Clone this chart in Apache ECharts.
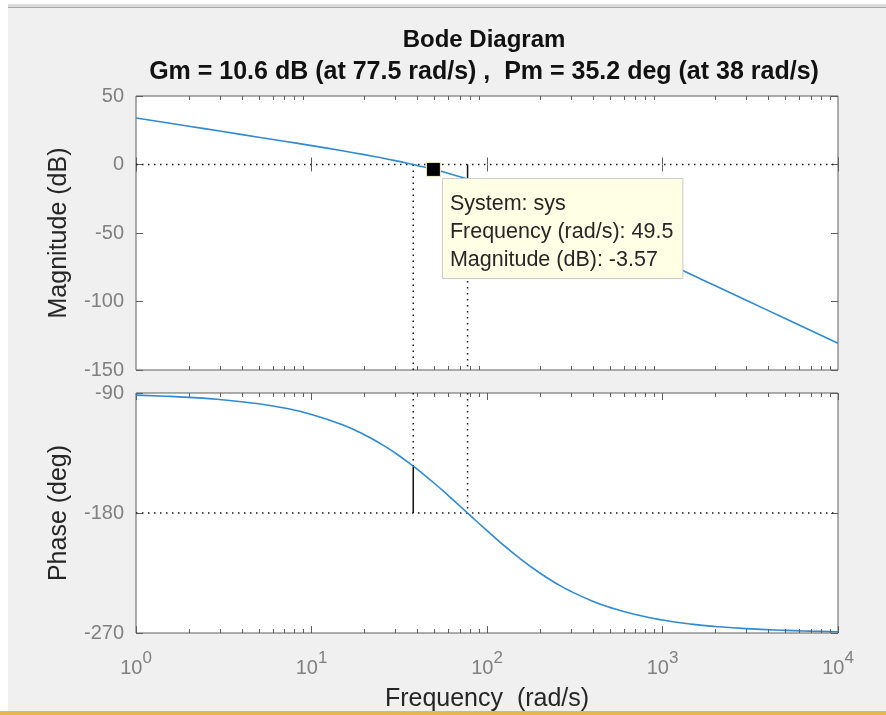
<!DOCTYPE html>
<html>
<head>
<meta charset="utf-8">
<script src="https://cdn.jsdelivr.net/npm/echarts@6/dist/echarts.min.js"></script>
<style>
  html, body { margin: 0; padding: 0; background: #ffffff; }
  #chart { width: 886px; height: 715px; }
</style>
</head>
<body>
<div id="chart"></div>
<script>
// ---- data ----
const freq = [1, 1.5, 2, 3, 5, 7, 10, 15, 20, 25, 30, 38, 40, 49.5, 60, 77.5, 100, 120, 150, 200, 250, 300, 400, 500, 700, 1000, 1500, 2000, 3000, 5000, 7000, 10000];
const magDb = [33.98, 30.46, 27.95, 24.42, 19.95, 16.98, 13.78, 10.02, 7.19, 4.87, 2.84, -0.01, -0.67, -3.57, -6.43, -10.64, -15.30, -18.91, -23.63, -30.12, -35.41, -39.85, -47.02, -52.68, -61.31, -70.53, -81.06, -88.54, -99.09, -112.40, -121.17, -130.46];
const phaseDeg = [-91.62, -92.43, -93.25, -94.87, -98.10, -101.31, -106.07, -113.82, -121.26, -128.33, -135.00, -144.81, -147.10, -157.13, -166.76, -180.03, -193.24, -202.38, -212.91, -225.00, -233.05, -238.74, -246.18, -250.79, -256.19, -260.29, -263.52, -265.13, -266.75, -268.05, -268.61, -269.03];

const freqMin = 1, freqMax = 10000;
const magMin = -150, magMax = 50, magStep = 50;
const phaseMin = -270, phaseMax = -90, phaseStep = 90;
const minorFreqs = [2,3,4,5,6,7,8,9, 20,30,40,50,60,70,80,90, 200,300,400,500,600,700,800,900, 2000,3000,4000,5000,6000,7000,8000,9000];

const gainCrossFreq = 38;      // Pm frequency
const phaseAtGainCross = -144.8;
const phaseCrossFreq = 77.5;   // Gm frequency
const magAtPhaseCross = -10.6;
const zeroDb = 0;
const minus180 = -180;

const cursorFreq = 49.5;
const cursorMag = -3.57;

const titleText = 'Bode Diagram';
const subTitleText = 'Gm = 10.6 dB (at 77.5 rad/s) ,  Pm = 35.2 deg (at 38 rad/s)';

// ---- styles ----
const FONT = '"Liberation Sans", Arial, Helvetica, sans-serif';
const AX = '#5e5e5e';
const TICKLBL = '#808080';
const DARK = '#262626';
const BLUE = '#2f8ad4';

function pairs(xs, ys) { return xs.map((x, i) => [x, ys[i]]); }

function xAxisBase(gridIndex, position, showLabel, name) {
  return {
    type: 'log', logBase: 10, gridIndex, position,
    min: freqMin, max: freqMax,
    axisLine: { show: false },
    axisTick: { show: true, inside: true, length: 7, lineStyle: { color: AX, width: 1 } },
    splitLine: { show: false },
    axisLabel: {
      show: showLabel, margin: 17, showMinLabel: true, showMaxLabel: true,
      formatter: v => '{b|10}{s|' + Math.round(Math.log10(v)) + '}',
      rich: {
        b: { fontSize: 20, color: TICKLBL, fontFamily: FONT, verticalAlign: 'bottom', lineHeight: 28 },
        s: { fontSize: 17, color: TICKLBL, fontFamily: FONT, verticalAlign: 'top', lineHeight: 28 }
      }
    },
    name: name || '',
    nameLocation: 'middle', nameGap: 54,
    nameTextStyle: { fontSize: 25, color: DARK, fontFamily: FONT }
  };
}

function yAxisBase(gridIndex, position, min, max, step, showLabel, name) {
  return {
    type: 'value', gridIndex, position, min, max, interval: step,
    axisLine: { show: false },
    axisTick: { show: true, inside: true, length: 7, lineStyle: { color: AX, width: 1 } },
    splitLine: { show: false },
    axisLabel: { show: showLabel, fontSize: 20, color: TICKLBL, fontFamily: FONT, margin: 12 },
    name: name || '',
    nameLocation: 'middle', nameGap: 64, nameRotate: 90,
    nameTextStyle: { fontSize: 25, color: DARK, fontFamily: FONT }
  };
}

function minorTickSeries(xi, yi, yVal) {
  return {
    type: 'custom', xAxisIndex: xi, yAxisIndex: yi, silent: true, z: 5,
    data: minorFreqs.map(f => [f, yVal]),
    renderItem: function (params, api) {
      const p = api.coord([api.value(0), api.value(1)]);
      const cs = params.coordSys;
      const x = Math.round(p[0]) + 0.5;
      return {
        type: 'group',
        children: [
          { type: 'line', shape: { x1: x, y1: cs.y + cs.height, x2: x, y2: cs.y + cs.height - 4 }, style: { stroke: AX, lineWidth: 1 } },
          { type: 'line', shape: { x1: x, y1: cs.y, x2: x, y2: cs.y + 4 }, style: { stroke: AX, lineWidth: 1 } }
        ]
      };
    }
  };
}

function refLine(xi, yi, data, dotted) {
  return {
    type: 'line', xAxisIndex: xi, yAxisIndex: yi, data, silent: true,
    symbol: 'none', z: 3, animation: false,
    lineStyle: dotted ? { color: '#1a1a1a', width: 1.5, type: [1.5, 4.5] } : { color: '#111', width: 1.5, type: 'solid' }
  };
}

const chart = echarts.init(document.getElementById('chart'), null, { renderer: 'canvas' });

const option = {
  animation: false,
  backgroundColor: '#f0f0f0',
  textStyle: { fontFamily: FONT },
  graphic: [
    { type: 'rect', shape: { x: 0, y: 0, width: 886, height: 4 }, style: { fill: '#ffffff' }, silent: true },
    { type: 'rect', shape: { x: 0, y: 4, width: 886, height: 3 }, style: { fill: '#dcdcdc' }, silent: true },
    { type: 'rect', shape: { x: 0, y: 7, width: 886, height: 1 }, style: { fill: '#a8a8a8' }, silent: true },
    { type: 'rect', shape: { x: 0, y: 0, width: 8, height: 715 }, style: { fill: '#ffffff' }, silent: true },
    { type: 'rect', shape: { x: 0, y: 711, width: 886, height: 4 }, style: { fill: '#e8b64c' }, silent: true }
  ],
  title: [
    { text: titleText, left: 479, top: 23, textAlign: 'center',
      textStyle: { fontSize: 24, fontWeight: 'bold', color: '#111', fontFamily: FONT } },
    { text: subTitleText, left: 479, top: 55, textAlign: 'center',
      textStyle: { fontSize: 25, fontWeight: 'bold', color: '#111', fontFamily: FONT } }
  ],
  grid: [
    { left: 136, top: 96, width: 702, height: 274, show: true, backgroundColor: '#ffffff', borderColor: AX, borderWidth: 1, containLabel: false },
    { left: 136, top: 393, width: 702, height: 240, show: true, backgroundColor: '#ffffff', borderColor: AX, borderWidth: 1, containLabel: false }
  ],
  xAxis: [
    xAxisBase(0, 'bottom', false),
    xAxisBase(0, 'top', false),
    xAxisBase(1, 'bottom', true, 'Frequency  (rad/s)'),
    xAxisBase(1, 'top', false)
  ],
  yAxis: [
    yAxisBase(0, 'left', magMin, magMax, magStep, true, 'Magnitude (dB)'),
    yAxisBase(0, 'right', magMin, magMax, magStep, false),
    yAxisBase(1, 'left', phaseMin, phaseMax, phaseStep, true, 'Phase (deg)'),
    yAxisBase(1, 'right', phaseMin, phaseMax, phaseStep, false)
  ],
  series: [
    minorTickSeries(0, 0, magMin),
    minorTickSeries(2, 2, phaseMin),
    // magnitude reference lines
    refLine(0, 0, [[freqMin, zeroDb], [freqMax, zeroDb]], true),
    refLine(0, 0, [[gainCrossFreq, zeroDb], [gainCrossFreq, magMin]], true),
    refLine(0, 0, [[phaseCrossFreq, magAtPhaseCross], [phaseCrossFreq, magMin]], true),
    refLine(0, 0, [[phaseCrossFreq, zeroDb], [phaseCrossFreq, magAtPhaseCross]], false),
    // phase reference lines
    refLine(2, 2, [[freqMin, minus180], [freqMax, minus180]], true),
    refLine(2, 2, [[gainCrossFreq, phaseMax], [gainCrossFreq, phaseAtGainCross]], true),
    refLine(2, 2, [[gainCrossFreq, phaseAtGainCross], [gainCrossFreq, minus180]], false),
    refLine(2, 2, [[phaseCrossFreq, phaseMax], [phaseCrossFreq, minus180]], true),
    {
      name: 'Magnitude', type: 'line', xAxisIndex: 0, yAxisIndex: 0,
      data: pairs(freq, magDb), symbol: 'none', smooth: 0.5, z: 4,
      lineStyle: { color: BLUE, width: 1.6 }
    },
    {
      name: 'Phase', type: 'line', xAxisIndex: 2, yAxisIndex: 2,
      data: pairs(freq, phaseDeg), symbol: 'none', smooth: 0.5, z: 4,
      lineStyle: { color: BLUE, width: 1.6 }
    },
    {
      name: 'Cursor', type: 'scatter', xAxisIndex: 0, yAxisIndex: 0, z: 10,
      data: [[cursorFreq, cursorMag]],
      symbol: 'rect', symbolSize: 14,
      itemStyle: { color: '#000000', borderColor: '#f5f2b8', borderWidth: 1, opacity: 1 },
      label: {
        show: true, position: [17, 17], align: 'left', verticalAlign: 'top',
        formatter: () => ['System: sys', 'Frequency (rad/s): ' + cursorFreq, 'Magnitude (dB): ' + cursorMag].join('\n'),
        fontSize: 21.5, lineHeight: 28, color: DARK, fontFamily: FONT,
        backgroundColor: '#ffffe6', borderColor: '#cccccc', borderWidth: 1,
        padding: [11, 9, 4, 7]
      }
    }
  ]
};

chart.setOption(option);
</script>
</body>
</html>
